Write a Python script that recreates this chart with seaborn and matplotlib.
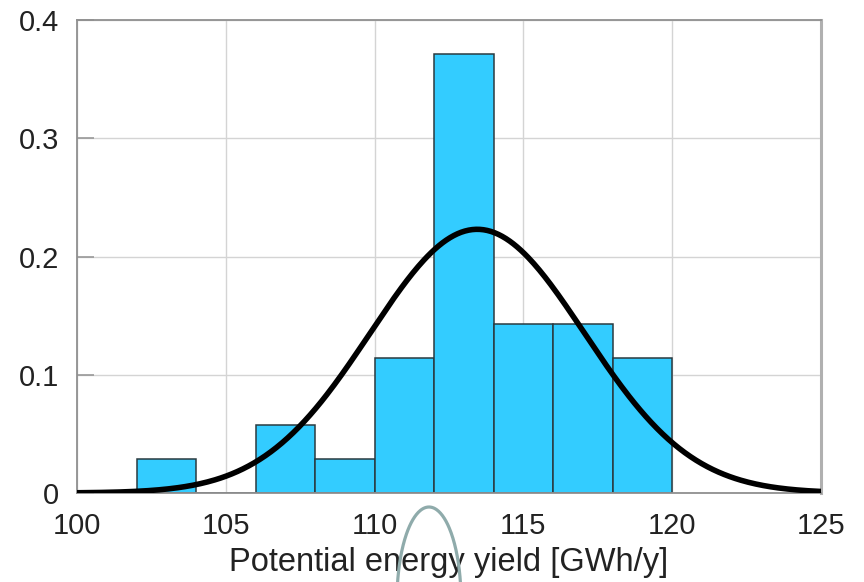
import numpy as np
import pandas as pd
import matplotlib
matplotlib.use("Agg")
import matplotlib.pyplot as plt
import seaborn as sns
from matplotlib.lines import Line2D

# ---- data ----
bin_edges = [102, 104, 106, 108, 110, 112, 114, 116, 118, 120]
bin_density = [0.0286, 0.0, 0.0571, 0.0286, 0.1143, 0.3714, 0.1429, 0.1429, 0.1143]
curve_mean = 113.45
curve_sigma = 3.6
curve_peak = 0.223
x_ticks = [100, 105, 110, 115, 120, 125]
y_ticks = [0, 0.1, 0.2, 0.3, 0.4]
y_tick_labels = ["0", "0.1", "0.2", "0.3", "0.4"]
x_label = "Potential energy yield [GWh/y]"

sns.set_theme(style="white")
plt.rcParams["font.family"] = ["Liberation Sans", "DejaVu Sans"]

fig = plt.figure(figsize=(8.64, 5.82), dpi=100)
ax = fig.add_axes([77 / 864, 1 - 493 / 582, (821 - 77) / 864, (493 - 20) / 582])

centers = [(a + b) / 2 for a, b in zip(bin_edges[:-1], bin_edges[1:])]
df = pd.DataFrame({"x": centers, "w": bin_density})
sns.histplot(data=df, x="x", weights="w", bins=bin_edges, stat="count",
             color="#33CCFF", alpha=1.0, edgecolor="#2a3a40", linewidth=1.1,
             ax=ax, zorder=2)

xs = np.linspace(100, 125, 400)
ys = curve_peak * np.exp(-0.5 * ((xs - curve_mean) / curve_sigma) ** 2)
sns.lineplot(x=xs, y=ys, color="black", linewidth=4.0, ax=ax, zorder=3,
             solid_capstyle="round")

ax.set_xlim(100, 125)
ax.set_ylim(0, 0.4)
ax.set_xticks(x_ticks)
ax.set_xticklabels([str(t) for t in x_ticks])
ax.set_yticks(y_ticks)
ax.set_yticklabels(y_tick_labels)
ax.grid(True, color="#d4d4d4", linewidth=1.0, zorder=0)
ax.set_axisbelow(True)
ax.tick_params(axis="y", direction="in", length=12, width=1.2, color="#999999",
               pad=13, labelsize=21, labelcolor="#222222", left=True)
ax.tick_params(axis="x", length=0, pad=14, labelsize=21, labelcolor="#222222")
ax.set_xlabel(x_label, fontsize=23.5, color="#222222", labelpad=5)
ax.set_ylabel("")
for side, sp in ax.spines.items():
    sp.set_color("#909090")
    sp.set_linewidth(1.3)
ax.spines["right"].set_color("#b0b0b0")
ax.spines["right"].set_linewidth(2.2)

# decorative grey arc seen at the bottom of the reference
t = np.linspace(0, np.pi, 200)
cx, cy, rx, ry = 429, -18, 32, 93
px = cx + rx * np.cos(t)
py = cy + ry * np.sin(t)
fig.add_artist(Line2D(px / 864, py / 582, transform=fig.transFigure,
                      color="#8fabab", linewidth=2.3, zorder=10))

fig.savefig("out.png", dpi=100)
